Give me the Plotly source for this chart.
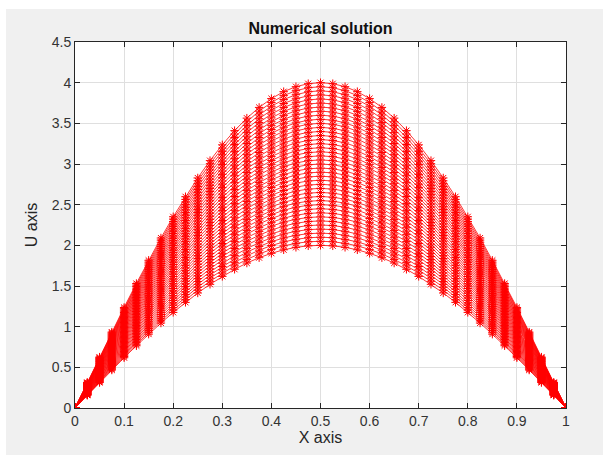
import plotly.graph_objects as go

# x grid (41 points)
x_vals = [round(i * 0.025, 3) for i in range(41)]

# normalized profile (peak = 1 at x = 0.5)
profile = [0.0, 0.0785, 0.1564, 0.2334, 0.3090, 0.3827, 0.4540, 0.5225, 0.5878, 0.6494,
           0.7071, 0.7604, 0.8090, 0.8526, 0.8910, 0.9239, 0.9511, 0.9724, 0.9877, 0.9969,
           1.0,
           0.9969, 0.9877, 0.9724, 0.9511, 0.9239, 0.8910, 0.8526, 0.8090, 0.7604, 0.7071,
           0.6494, 0.5878, 0.5225, 0.4540, 0.3827, 0.3090, 0.2334, 0.1564, 0.0785, 0.0]

# peak height of each curve
peaks = [2.00, 2.05, 2.10, 2.15, 2.20, 2.25, 2.30, 2.35, 2.40, 2.45,
         2.50, 2.55, 2.60, 2.65, 2.70, 2.75, 2.80, 2.85, 2.90, 2.95,
         3.00, 3.05, 3.10, 3.15, 3.20, 3.25, 3.30, 3.35, 3.40, 3.45,
         3.50, 3.55, 3.60, 3.65, 3.70, 3.75, 3.80, 3.85, 3.90, 3.95, 4.00]

x_ticks = [0, 0.1, 0.2, 0.3, 0.4, 0.5, 0.6, 0.7, 0.8, 0.9, 1]
x_tick_text = ["0", "0.1", "0.2", "0.3", "0.4", "0.5", "0.6", "0.7", "0.8", "0.9", "1"]
y_ticks = [0, 0.5, 1, 1.5, 2, 2.5, 3, 3.5, 4, 4.5]
y_tick_text = ["0", "0.5", "1", "1.5", "2", "2.5", "3", "3.5", "4", "4.5"]

FONT = "Liberation Sans, Arial"

fig = go.Figure()
for p in peaks:
    fig.add_trace(go.Scatter(
        x=x_vals, y=[p * v for v in profile], mode="lines+markers",
        line=dict(color="#ff0000", width=0.8),
        marker=dict(symbol="asterisk-open", size=7, color="#ff0000",
                    line=dict(color="#ff0000", width=1)),
        showlegend=False, hoverinfo="skip"))

axis_common = dict(showline=True, linecolor="#262626", linewidth=1, mirror="ticks",
                   ticks="inside", ticklen=5, tickcolor="#262626", automargin=False,
                   showgrid=True, gridcolor="#dfdfdf", gridwidth=1, zeroline=False,
                   tickfont=dict(family=FONT, size=14, color="#333333"))

fig.update_layout(
    width=603, height=455,
    margin=dict(l=75, r=37, t=42, b=47),
    paper_bgcolor="#f0f0f0", plot_bgcolor="#ffffff",
    title=dict(text="<b>Numerical solution</b>", x=0.5, xref="paper", xanchor="center",
               y=1 - 28 / 455, yanchor="middle",
               font=dict(family=FONT, size=16, color="#111111")),
    xaxis=dict(range=[0, 1], tickvals=x_ticks, ticktext=x_tick_text,
               title=dict(text="X axis", standoff=2,
                          font=dict(family=FONT, size=16, color="#262626")),
               **axis_common),
    yaxis=dict(range=[0, 4.5], tickvals=y_ticks, ticktext=y_tick_text,
               title=dict(text="U axis", standoff=10,
                          font=dict(family=FONT, size=16, color="#262626")),
               **axis_common),
    shapes=[
        dict(type="rect", xref="paper", yref="paper", x0=-0.2, x1=1.2,
             y0=(408 - 9) / 366, y1=1.2, fillcolor="#ffffff", line=dict(width=0), layer="below"),
        dict(type="rect", xref="paper", yref="paper", x0=-0.2, x1=(6 - 75) / 491,
             y0=-0.2, y1=1.2, fillcolor="#ffffff", line=dict(width=0), layer="below"),
    ],
)

fig.write_html("out.html", config={"displayModeBar": False},
               post_script="document.body.style.margin='0';")
